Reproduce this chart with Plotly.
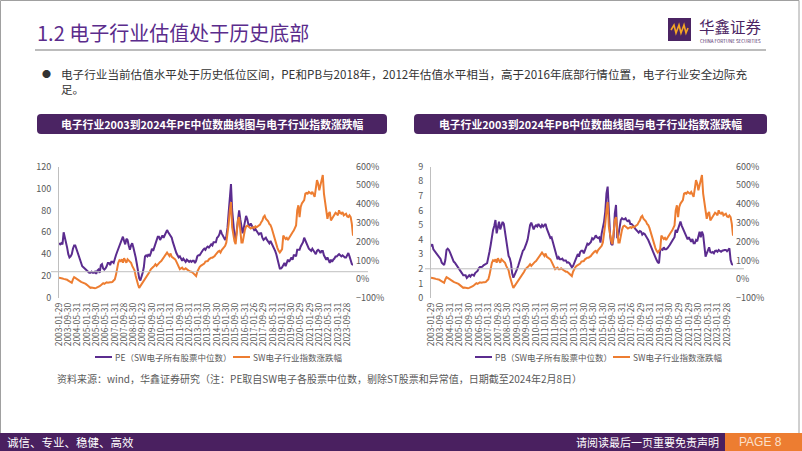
import plotly.graph_objects as go

W, H = 802, 451
FONT = "Noto Sans CJK SC"

# ---------------- data ----------------
months = [f"{y}-{m:02d}" for y in range(2003, 2025) for m in range(1, 13)][:254]

tick_labels = ["2003-01-29", "2003-09-30", "2004-05-31", "2005-01-31", "2005-09-30", "2006-05-31",
               "2007-01-31", "2007-09-28", "2008-05-30", "2009-01-23", "2009-09-30", "2010-05-31",
               "2011-01-31", "2011-09-30", "2012-05-31", "2013-01-31", "2013-09-30", "2014-05-30",
               "2015-01-30", "2015-09-30", "2016-05-31", "2017-01-26", "2017-09-29", "2018-05-31",
               "2019-01-31", "2019-09-30", "2020-05-29", "2021-01-29", "2021-09-30", "2022-05-31",
               "2023-01-31", "2023-09-28"]

pe = [50, 49, 50, 49, 60, 56, 52, 46, 40, 37, 38, 40,
      45, 48, 48, 45, 40, 37, 35, 31, 29, 28, 27, 26,
      25, 24, 23, 23, 24, 23, 23, 24, 22, 25, 26, 23,
      30, 31, 27, 26, 27, 29, 32, 32, 30, 33, 33, 32,
      37, 39, 42, 45, 48, 52, 55, 56, 52, 49, 54, 53,
      48, 44, 48, 50, 46, 42, 37, 31, 22, 18, 16, 19,
      23, 28, 38, 39, 38, 40, 38, 41, 45, 43, 46, 51,
      54, 56, 56, 53, 55, 57, 55, 57, 60, 62, 60, 58,
      56, 55, 51, 47, 45, 41, 39, 37, 38, 36, 34, 36,
      34, 33, 35, 34, 33, 34, 33, 34, 34, 32, 34, 38,
      39, 39, 41, 43, 44, 45, 44, 46, 47, 46, 48, 49,
      48, 51, 51, 51, 55, 56, 58, 62, 59, 57, 55, 53,
      56, 64, 78, 95, 104, 80, 66, 57, 53, 62, 72, 80,
      72, 64, 59, 64, 71, 75, 72, 67, 66, 68, 66, 64,
      62, 63, 61, 60, 58, 59, 59, 55, 53, 54, 55, 53,
      51, 50, 52, 50, 47, 45, 43, 40, 35, 30, 27, 27,
      28, 30, 32, 29, 32, 35, 33, 36, 37, 35, 39, 39,
      38, 44, 44, 44, 47, 49, 51, 55, 52, 49, 47, 45,
      44, 43, 45, 43, 41, 40, 43, 44, 43, 41, 43, 43,
      39, 36, 35, 37, 34, 32, 35, 33, 35, 36, 38, 38,
      39, 40, 39, 38, 39, 38, 37, 37, 39, 41, 38, 33,
      31, 30]

pb = [3.52, 3.68, 3.33, 3.22, 3.15, 3.06, 2.92, 2.83, 2.67, 2.42, 2.31, 2.26,
      2.60, 3.29, 3.38, 3.29, 3.11, 2.90, 2.67, 2.49, 2.42, 2.31, 2.15, 2.06,
      1.92, 1.83, 1.69, 1.55, 1.53, 1.55, 1.37, 1.51, 1.55, 1.46, 1.60, 1.60,
      1.53, 1.71, 1.76, 1.85, 2.03, 2.12, 2.12, 2.15, 2.24, 2.31, 2.33, 2.38,
      2.72, 3.17, 3.63, 4.32, 4.66, 4.93, 5.34, 4.43, 4.77, 5.23, 4.70, 5.00,
      5.21, 5.07, 4.43, 3.97, 3.40, 2.88, 2.72, 2.38, 1.69, 1.39, 1.58, 1.74,
      1.96, 2.19, 2.44, 2.72, 3.01, 3.24, 3.33, 3.49, 3.75, 4.02, 4.48, 5.00,
      5.16, 4.93, 4.70, 4.89, 4.98, 4.89, 5.07, 4.93, 4.84, 5.00, 4.89, 4.98,
      5.07, 4.75, 4.52, 4.29, 4.11, 4.16, 3.86, 3.47, 3.11, 2.83, 2.65, 2.79,
      2.65, 2.65, 2.70, 2.56, 2.54, 2.56, 2.42, 2.44, 2.38, 2.24, 2.10, 2.19,
      2.42, 2.58, 2.88, 3.01, 2.83, 3.15, 3.24, 3.24, 3.06, 3.33, 3.52, 3.72,
      3.65, 3.75, 3.84, 4.09, 4.02, 4.11, 4.29, 4.16, 4.11, 4.16, 3.79, 4.43,
      4.84, 5.23, 5.92, 7.17, 7.63, 5.69, 4.32, 3.70, 3.63, 4.20, 5.80, 6.37,
      4.09, 4.32, 4.77, 5.34, 5.46, 5.39, 5.39, 5.46, 5.30, 5.25, 5.34, 5.07,
      5.07, 5.00, 4.89, 4.75, 4.66, 4.61, 4.48, 4.59, 4.54, 4.34, 4.43, 4.38,
      4.20, 4.11, 3.97, 3.81, 3.63, 3.38, 3.17, 2.95, 2.83, 2.60, 2.44, 2.38,
      3.29, 3.33, 3.29, 3.47, 3.33, 3.33, 3.40, 3.49, 3.63, 3.77, 3.95, 4.04,
      4.16, 4.66, 4.48, 4.77, 5.02, 5.23, 4.96, 4.75, 4.54, 4.36, 4.16, 4.02,
      4.16, 3.97, 3.84, 4.04, 3.75, 3.75, 3.97, 3.88, 4.32, 4.54, 4.16, 4.54,
      4.32, 3.75, 2.83, 3.06, 3.33, 3.47, 3.15, 3.11, 3.15, 3.06, 3.22, 3.24,
      3.17, 3.29, 3.22, 3.17, 3.24, 3.29, 3.29, 3.29, 3.20, 3.29, 3.40, 2.60,
      2.33, 2.26]

sw_chg = [8, 8, 6, 4, 2, 1, -1, -3, -7, -10, -14, -19,
          -1, 11, 7, 2, -1, -7, -10, -14, -17, -19, -21, -25,
          -30, -35, -41, -46, -44, -46, -48, -48, -46, -44, -41, -37,
          -32, -25, -21, -25, -19, -17, -19, -16, -16, -16, -14, -7,
          -1, 22, 62, 88, 101, 97, 106, 88, 112, 94, 88, 106,
          101, 97, 88, 71, 62, 47, 17, -10, -28, -46, -37, -25,
          -14, -7, 2, 11, 17, 26, 40, 53, 62, 65, 71, 80,
          71, 80, 87, 92, 97, 106, 119, 130, 137, 142, 133, 124,
          137, 119, 115, 112, 106, 94, 80, 62, 53, 58, 62, 53,
          53, 58, 53, 44, 44, 40, 40, 35, 29, 22, 17, 40,
          58, 65, 71, 76, 80, 83, 94, 97, 97, 106, 112, 115,
          115, 119, 124, 133, 142, 147, 151, 142, 155, 164, 173, 178,
          196, 241, 295, 367, 411, 277, 232, 202, 187, 277, 316, 331,
          250, 196, 196, 241, 263, 281, 285, 281, 277, 270, 274, 277,
          273, 281, 277, 281, 286, 291, 304, 313, 331, 338, 322, 316,
          309, 295, 288, 273, 250, 227, 209, 187, 166, 151, 142, 151,
          160, 232, 220, 214, 220, 209, 220, 232, 241, 250, 259, 273,
          286, 367, 394, 331, 385, 403, 412, 421, 456, 460, 456, 465,
          460, 456, 465, 447, 439, 483, 528, 510, 474, 501, 528, 555,
          456, 403, 349, 322, 349, 358, 313, 322, 331, 340, 354, 349,
          340, 367, 352, 349, 358, 340, 345, 349, 334, 331, 340, 331,
          295, 232]

pe_name = "PE（SW电子所有股票中位数）"
pb_name = "PB（SW电子所有股票中位数）"
sw_name = "SW电子行业指数涨跌幅"

PURPLE = "#5B2C8F"
ORANGE = "#ED7D31"
DARK = "#4B2463"
GRAY_TXT = "#595959"


def px(x):
    return x / W


def py(y):
    return 1 - y / H


fig = go.Figure()
fig.add_trace(go.Scatter(x=months, y=pe, mode="lines", name=pe_name,
                         line=dict(color=PURPLE, width=2), xaxis="x", yaxis="y"))
fig.add_trace(go.Scatter(x=months, y=sw_chg, mode="lines", name=sw_name,
                         line=dict(color=ORANGE, width=2), xaxis="x", yaxis="y2"))
fig.add_trace(go.Scatter(x=months, y=pb, mode="lines", name=pb_name,
                         line=dict(color=PURPLE, width=2), xaxis="x2", yaxis="y3"))
fig.add_trace(go.Scatter(x=months, y=sw_chg, mode="lines", name=sw_name,
                         line=dict(color=ORANGE, width=2), xaxis="x2", yaxis="y4"))

ydom = [py(298), py(166.5)]
tickfont = dict(family=FONT, size=9, color=GRAY_TXT)
xcommon = dict(type="category", range=[0, 253], tickmode="array",
               tickvals=months[::8], ticktext=tick_labels, tickangle=-90,
               tickfont=dict(family=FONT, size=8.5, color=GRAY_TXT),
               showgrid=False, zeroline=False, showline=False, ticks="",
               ticklabelstandoff=2, automargin=False)
ycommon = dict(showgrid=False, zeroline=False, ticks="", tickfont=tickfont, automargin=False)

fig.update_layout(
    width=W, height=H, margin=dict(l=0, r=0, t=0, b=0, pad=0, autoexpand=False),
    paper_bgcolor="white", plot_bgcolor="rgba(0,0,0,0)",
    showlegend=False,
    xaxis=dict(domain=[px(59), px(353)], anchor="y", **xcommon),
    yaxis=dict(domain=ydom, anchor="x", range=[0, 120.05], tickvals=[0, 20, 40, 60, 80, 100, 120],
               showline=True, linecolor="#BFBFBF", linewidth=1,
               ticklabelstandoff=5, **ycommon),
    yaxis2=dict(overlaying="y", side="right", anchor="x", range=[-100, 600.3], dtick=100,
                ticksuffix="%", showline=False, ticklabelstandoff=2, **ycommon),
    xaxis2=dict(domain=[px(431), px(733)], anchor="y3", **xcommon),
    yaxis3=dict(domain=ydom, anchor="x2", range=[0, 9.004], dtick=1,
                showline=True, linecolor="#BFBFBF", linewidth=1,
                ticklabelstandoff=5, **ycommon),
    yaxis4=dict(overlaying="y3", side="right", anchor="x2", range=[-100, 600.3], dtick=100,
                ticksuffix="%", showline=False, ticklabelstandoff=2, **ycommon),
)

shapes = []
# slide border
shapes.append(dict(type="rect", xref="paper", yref="paper", x0=px(0.5), x1=px(799), y0=py(450), y1=py(0.5),
                   line=dict(color="#A0A0A0", width=1), fillcolor="rgba(0,0,0,0)", layer="below"))
# title underline
shapes.append(dict(type="line", xref="paper", yref="paper", x0=px(35), x1=px(766), y0=py(50), y1=py(50),
                   line=dict(color="#A6A6A6", width=1.5)))
# logo square
shapes.append(dict(type="rect", xref="paper", yref="paper", x0=px(668), x1=px(691), y0=py(41), y1=py(18),
                   line=dict(width=0), fillcolor=DARK))
zig = [(671, 30), (674, 25), (676, 33), (679, 25), (681, 33), (684, 25), (686, 33), (688, 28)]
path = "M " + " L ".join(f"{px(a):.5f},{py(b):.5f}" for a, b in zig)
shapes.append(dict(type="path", xref="paper", yref="paper", path=path,
                   line=dict(color="#F5A623", width=1.6)))


def rounded(x0, y0, x1, y1, r=4):
    rx, ry = r / W, r / H
    X0, X1, Y0, Y1 = px(x0), px(x1), py(y1), py(y0)  # Y0 bottom, Y1 top
    return (f"M {X0+rx},{Y1} L {X1-rx},{Y1} Q {X1},{Y1} {X1},{Y1-ry} "
            f"L {X1},{Y0+ry} Q {X1},{Y0} {X1-rx},{Y0} L {X0+rx},{Y0} "
            f"Q {X0},{Y0} {X0},{Y0+ry} L {X0},{Y1-ry} Q {X0},{Y1} {X0+rx},{Y1} Z")


for (a, b) in [(37, 387), (414, 767)]:
    shapes.append(dict(type="path", xref="paper", yref="paper", path=rounded(a, 114, b, 134),
                       fillcolor=DARK, line=dict(width=0)))

# horizontal reference lines in the charts
shapes.append(dict(type="line", xref="paper", yref="y", x0=px(51), x1=px(368), y0=24, y1=24,
                   line=dict(color="#BFBFBF", width=1)))
shapes.append(dict(type="line", xref="paper", yref="y3", x0=px(425), x1=px(744), y0=2, y1=2,
                   line=dict(color="#BFBFBF", width=1)))

# legend samples
for (a, c) in [(95, PURPLE), (233, ORANGE), (475, PURPLE), (613, ORANGE)]:
    shapes.append(dict(type="line", xref="paper", yref="paper", x0=px(a), x1=px(a + 17), y0=py(357), y1=py(357),
                       line=dict(color=c, width=2)))

# footer
shapes.append(dict(type="rect", xref="paper", yref="paper", x0=0, x1=1, y0=0, y1=py(433),
                   line=dict(width=0), fillcolor="#4A2060"))
shapes.append(dict(type="rect", xref="paper", yref="paper", x0=px(725), x1=1, y0=0, y1=py(433),
                   line=dict(width=0), fillcolor=ORANGE))

anns = []


def txt(x, y, s, size, color, anchor="left", bold=False, family=FONT, yanchor="middle"):
    anns.append(dict(xref="paper", yref="paper", x=px(x), y=py(y), text=f"<b>{s}</b>" if bold else s,
                     showarrow=False, xanchor=anchor, yanchor=yanchor, align="left",
                     font=dict(family=family, size=size, color=color)))


txt(35, 33, "1.2 电子行业估值处于历史底部", 20, "#5B2C8C")
txt(697, 26, "华鑫证券", 15.5, DARK)
txt(698, 40.5, "CHINA FORTUNE SECURITIES", 4.5, DARK)
txt(40, 73, "●", 9, "#333333")
txt(59, 64, "电子行业当前估值水平处于历史低位区间，PE和PB与2018年，2012年估值水平相当，高于2016年底部行情位置，电子行业安全边际充"
    "<br>足。", 11.6, "#333333", yanchor="top")
txt(212, 124, "电子行业2003到2024年PE中位数曲线图与电子行业指数涨跌幅", 10.8, "white", anchor="center", bold=True)
txt(590, 124, "电子行业2003到2024年PB中位数曲线图与电子行业指数涨跌幅", 10.8, "white", anchor="center", bold=True)
txt(113, 357, pe_name, 8.5, GRAY_TXT)
txt(251, 357, sw_name, 8.5, GRAY_TXT)
txt(493, 357, pb_name, 8.5, GRAY_TXT)
txt(631, 357, sw_name, 8.5, GRAY_TXT)
txt(55, 378, "资料来源：wind，华鑫证券研究（注：PE取自SW电子各股票中位数，剔除ST股票和异常值，日期截至2024年2月8日）",
    10, GRAY_TXT)
txt(5, 442, "诚信、专业、稳健、高效", 11.5, "white")
txt(721, 442, "请阅读最后一页重要免责声明", 11, "white", anchor="right")
txt(737, 442, "PAGE 8", 12, "#FBE0CC", family="Liberation Sans")

fig.update_layout(shapes=shapes, annotations=anns)
fig.write_html("out.html", config={"displayModeBar": False},
               post_script="document.body.style.margin='0';document.body.style.padding='0';")
